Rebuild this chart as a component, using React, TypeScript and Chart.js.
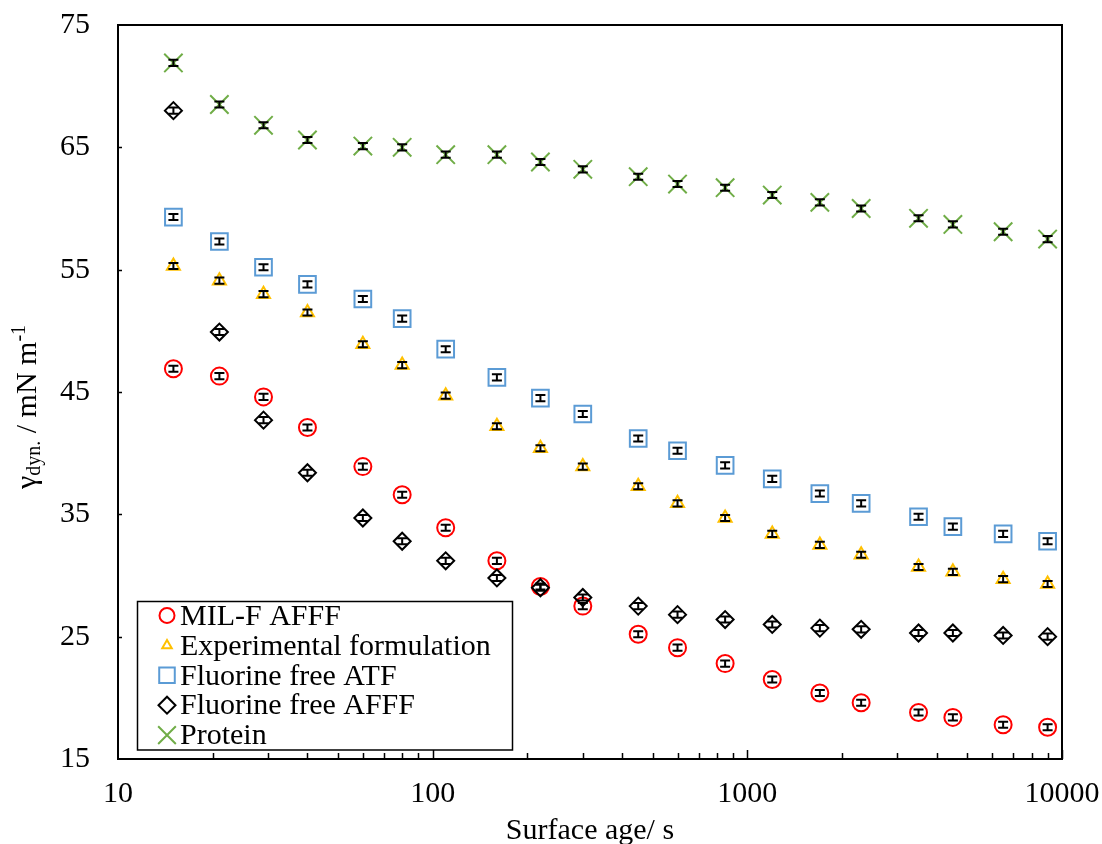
import React, { useEffect, useRef } from "react";
import { Chart, registerables } from "chart.js";
import { drawPoint } from "chart.js/helpers";

Chart.register(...registerables);

// Surface age (s) at which the dynamic surface tension was sampled
const surfaceAge = [15, 21, 29, 40, 60, 80, 110, 160, 220, 300, 450, 600, 850, 1200, 1700, 2300, 3500, 4500, 6500, 9000];

// Dynamic surface tension (mN/m) per formulation
const milFAfff = [46.9, 46.3, 44.6, 42.1, 38.9, 36.6, 33.9, 31.2, 29.1, 27.5, 25.2, 24.1, 22.8, 21.5, 20.4, 19.6, 18.8, 18.4, 17.8, 17.6];
const experimental = [55.3, 54.1, 53.0, 51.5, 48.9, 47.2, 44.7, 42.2, 40.4, 38.9, 37.3, 35.9, 34.7, 33.4, 32.5, 31.7, 30.7, 30.3, 29.7, 29.3];
const fluorineFreeAtf = [59.3, 57.3, 55.2, 53.8, 52.6, 51.0, 48.5, 46.2, 44.5, 43.2, 41.2, 40.2, 39.0, 37.9, 36.7, 35.9, 34.8, 34.0, 33.4, 32.8];
const fluorineFreeAfff = [68.0, 49.9, 42.7, 38.4, 34.7, 32.8, 31.2, 29.8, 29.0, 28.2, 27.5, 26.8, 26.4, 26.0, 25.7, 25.6, 25.3, 25.3, 25.1, 25.0];
const protein = [71.9, 68.5, 66.8, 65.6, 65.1, 65.0, 64.4, 64.4, 63.8, 63.2, 62.6, 62.0, 61.7, 61.1, 60.5, 60.0, 59.2, 58.7, 58.1, 57.5];

// Half-width of the error bars (mN/m) per series
const errorHalf = [0.25, 0.25, 0.25, 0.25, 0.25];

const seriesLabels = ["MIL-F AFFF", "Experimental formulation", "Fluorine free ATF", "Fluorine free AFFF", "Protein"];
const seriesValues = [milFAfff, experimental, fluorineFreeAtf, fluorineFreeAfff, protein];

// Axis ranges and ticks
const xMin = 10;
const xMax = 10000;
const yMin = 15;
const yMax = 75;
const yStep = 10;

const FONT = "'Liberation Serif', 'Times New Roman', serif";

type MarkerStyle = {
  color: string;
  pointStyle: string;
  radius: number;
  legendRadius: number;
  order: number;
};

const markerStyles: MarkerStyle[] = [
  { color: "#FF0000", pointStyle: "circle", radius: 8.5, legendRadius: 7.5, order: 1 },
  { color: "#FFC000", pointStyle: "triangle", radius: 7.5, legendRadius: 5.5, order: 1 },
  { color: "#5B9BD5", pointStyle: "rect", radius: 11.8, legendRadius: 11, order: 1 },
  { color: "#000000", pointStyle: "rectRot", radius: 8.5, legendRadius: 8.5, order: 0 },
  { color: "#70AD47", pointStyle: "crossRot", radius: 13, legendRadius: 12.5, order: 1 },
];

// Error bars drawn on top of the markers
const errorBarPlugin = {
  id: "errorBars",
  afterDatasetsDraw(chart: any) {
    const { ctx, scales } = chart;
    const xs = scales.x;
    const ys = scales.y;
    ctx.save();
    ctx.strokeStyle = "#000";
    ctx.lineWidth = 2;
    seriesValues.forEach((vals, i) => {
      const e = errorHalf[i];
      vals.forEach((v, j) => {
        const x = xs.getPixelForValue(surfaceAge[j]);
        const yt = ys.getPixelForValue(v + e);
        const yb = ys.getPixelForValue(v - e);
        ctx.beginPath();
        ctx.moveTo(x, yt);
        ctx.lineTo(x, yb);
        ctx.moveTo(x - 5, yt);
        ctx.lineTo(x + 5, yt);
        ctx.moveTo(x - 5, yb);
        ctx.lineTo(x + 5, yb);
        ctx.stroke();
      });
    });
    ctx.restore();
  },
};

// Plot frame with inward tick marks
const framePlugin = {
  id: "frame",
  afterDatasetsDraw(chart: any) {
    const { ctx, chartArea, scales } = chart;
    const { left, right, top, bottom } = chartArea;
    ctx.save();
    ctx.strokeStyle = "#000";
    ctx.lineWidth = 2;
    ctx.strokeRect(left, top, right - left, bottom - top);
    ctx.lineWidth = 1.5;
    ctx.beginPath();
    for (let d = xMin; d < xMax; d *= 10) {
      for (let k = 1; k <= 10; k++) {
        const v = k * d;
        if (v <= xMin || v > xMax) continue;
        const x = Math.round(scales.x.getPixelForValue(v)) + 0.5;
        const len = k === 10 ? 9 : 6;
        ctx.moveTo(x, bottom);
        ctx.lineTo(x, bottom - len);
      }
    }
    for (let v = yMin + yStep; v < yMax; v += yStep) {
      const y = Math.round(scales.y.getPixelForValue(v)) + 0.5;
      ctx.moveTo(left, y);
      ctx.lineTo(left + 4, y);
    }
    ctx.stroke();
    ctx.restore();
  },
};

// Axis titles, the y title carrying sub- and superscripts
const titlesPlugin = {
  id: "titles",
  afterDraw(chart: any) {
    const { ctx, chartArea } = chart;
    ctx.save();
    ctx.fillStyle = "#000";
    ctx.textBaseline = "alphabetic";
    ctx.textAlign = "center";
    ctx.font = `30px ${FONT}`;
    ctx.fillText("Surface age/ s", (chartArea.left + chartArea.right) / 2, 839);

    const parts = [
      { t: "\u03b3", size: 30, dy: 0 },
      { t: "dyn.", size: 20, dy: 4 },
      { t: " / mN m", size: 30, dy: 0 },
      { t: "-1", size: 20, dy: -11 },
    ];
    ctx.textAlign = "left";
    let total = 0;
    parts.forEach((p) => {
      ctx.font = `${p.size}px ${FONT}`;
      total += ctx.measureText(p.t).width;
    });
    ctx.translate(36, 407);
    ctx.rotate(-Math.PI / 2);
    let x = -total / 2;
    parts.forEach((p) => {
      ctx.font = `${p.size}px ${FONT}`;
      ctx.fillText(p.t, x, p.dy);
      x += ctx.measureText(p.t).width;
    });
    ctx.restore();
  },
};

// Boxed legend inside the plot area
const legendPlugin = {
  id: "boxLegend",
  afterDraw(chart: any) {
    const { ctx } = chart;
    ctx.save();
    ctx.fillStyle = "#fff";
    ctx.fillRect(137.5, 601.5, 375, 148.5);
    ctx.strokeStyle = "#000";
    ctx.lineWidth = 1.5;
    ctx.strokeRect(137.5, 601.5, 375, 148.5);
    seriesLabels.forEach((label, i) => {
      const s = markerStyles[i];
      const my = 615.5 + 29.9 * i;
      ctx.strokeStyle = s.color;
      ctx.fillStyle = "rgba(0,0,0,0)";
      ctx.lineWidth = 2;
      drawPoint(ctx, { pointStyle: s.pointStyle as any, radius: s.legendRadius, rotation: 0, borderWidth: 2 }, 167, my);
      ctx.fillStyle = "#000";
      ctx.font = `30px ${FONT}`;
      ctx.textAlign = "left";
      ctx.textBaseline = "alphabetic";
      ctx.fillText(label, 180, 625 + 29.75 * i);
    });
    ctx.restore();
  },
};

export default function App() {
  const canvasRef = useRef<HTMLCanvasElement>(null);

  useEffect(() => {
    if (!canvasRef.current) return;
    const datasets = seriesValues.map((vals, i) => ({
      label: seriesLabels[i],
      data: vals.map((v, j) => ({ x: surfaceAge[j], y: v })),
      showLine: false,
      pointStyle: markerStyles[i].pointStyle,
      pointRadius: markerStyles[i].radius,
      pointBorderWidth: 2,
      borderColor: markerStyles[i].color,
      backgroundColor: "rgba(0,0,0,0)",
      pointBackgroundColor: "rgba(0,0,0,0)",
      pointBorderColor: markerStyles[i].color,
      order: markerStyles[i].order,
    }));

    const chart = new Chart(canvasRef.current, {
      type: "scatter",
      data: { datasets: datasets as any },
      options: {
        responsive: false,
        animation: false,
        layout: { padding: { top: 25, right: 40, left: 0, bottom: 0 } },
        plugins: {
          legend: { display: false },
          tooltip: { enabled: false },
        },
        scales: {
          x: {
            type: "logarithmic",
            min: xMin,
            max: xMax,
            position: "bottom",
            grid: { display: false, drawTicks: false },
            border: { display: false },
            ticks: {
              color: "#000",
              font: { family: FONT, size: 30 },
              padding: 17,
              autoSkip: false,
              maxRotation: 0,
              callback: (v: any) => {
                const l = Math.log10(Number(v));
                return Math.abs(l - Math.round(l)) < 1e-9 ? String(Number(v)) : "";
              },
            },
            afterFit: (scale: any) => {
              scale.height = 85;
              scale.paddingLeft = 0;
              scale.paddingRight = 0;
            },
          },
          y: {
            type: "linear",
            min: yMin,
            max: yMax,
            grid: { display: false, drawTicks: false },
            border: { display: false },
            ticks: {
              stepSize: yStep,
              color: "#000",
              font: { family: FONT, size: 30 },
              padding: 28,
            },
            afterFit: (scale: any) => {
              scale.width = 118;
              scale.paddingTop = 0;
              scale.paddingBottom = 0;
            },
          },
        },
      },
      plugins: [errorBarPlugin, framePlugin, titlesPlugin, legendPlugin],
    });
    return () => chart.destroy();
  }, []);

  return (
    <div style={{ position: "fixed", left: 0, top: 0, width: 1102, height: 844, background: "#fff" }}>
      <canvas ref={canvasRef} width={1102} height={844} />
    </div>
  );
}
